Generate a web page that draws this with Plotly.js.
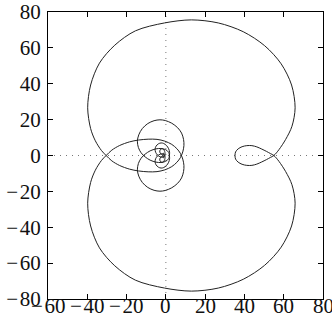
<!DOCTYPE html>
<html>
<head>
<meta charset="utf-8">
<script src="https://cdn.plot.ly/plotly-3.0.1.min.js"></script>
<style>
html,body{margin:0;padding:0;background:#fff;}
#chart{width:332px;height:328px;}
</style>
</head>
<body>
<div id="chart"></div>
<script>
// Half of the curve traced from the starting point on the real axis, going up first
var halfAx = [35.2,35.5,36.8,38.8,41.2,43.8,46.3,48.8,51.2,53.2,55,
  57.6,61,64.2,65.8,64,58.7,50.3,39.4,26.7,13,-0.7,-15.5,-26,-33.8,-38.3,-39.8,-38.3,-35.9,-32.8,-30.4,
  -27.5,-23.5,-18.5,-14,-9,-4.5,-0.5,3,5.6,7.4,
  8.6,9.2,9,8,6,3,-0.3,-3,-6,-9.2,-12,-13.8,-14.5,-14,-12.6,-10.5,-8,-5,-2.5,
  -0.2,1.4,1.9,1.4,0.3,-1.1,-2.4,-3.8,-5,-5.5,-5.2,-4.3,-3,-1.8,
  -0.7,-0.4,-0.6,-1.2,-1.9,-2.7,-3.1,-2.9,-2.2,-1.4,-0.9,-0.9,-1.2,-1.5,-1.4,-1.2];
var halfAy = [0,2,3.7,4.9,5.5,5.5,4.8,3.6,2.3,1.1,0,
  -3.3,-9,-16.3,-26.6,-39.3,-51.1,-61.2,-69,-73.9,-75.6,-73.9,-69.5,-61.5,-51.5,-39.3,-26.6,-15,-8.2,-2.8,0,
  3,5.6,7.6,8.6,9.1,9,8,6.2,3.8,1.2,
  -2,-5.5,-9,-12.5,-15.5,-18,-19.5,-19.9,-19.4,-17.8,-15,-11.5,-8,-4.5,-1.5,0.8,2.6,3.7,3.9,
  3.3,1.8,-1.8,-3.8,-5.6,-6.7,-7,-6.5,-5.2,-3.5,-1.8,-0.3,0.7,1,
  0.4,-1,-2.3,-3.5,-3.8,-3.4,-2.5,-1.4,-0.6,-0.3,-0.6,-1,-1.2,-1,-0.6,-0.4];

// Other half, traced from the same starting point, going down first
var halfBx = [35.2,35.5,36.8,38.8,41.2,43.8,46.3,48.8,51.2,53.2,55,
  57.6,61,64.2,65.8,64,58.7,50.3,39.4,26.7,13,-0.7,-15.5,-26,-33.8,-38.3,-39.8,-38.3,-35.9,-32.8,-30.4,
  -27.5,-23.5,-18.5,-14,-9,-4.5,-0.5,3,5.6,7.4,
  8.6,9.2,9,8,6,3,-0.3,-3,-6,-9.2,-12,-13.8,-14.5,-14,-12.6,-10.5,-8,-5,-2.5,
  -0.2,1.4,1.9,1.4,0.3,-1.1,-2.4,-3.8,-5,-5.5,-5.2,-4.3,-3,-1.8,
  -0.7,-0.4,-0.6,-1.2,-1.9,-2.7,-3.1,-2.9,-2.2,-1.4,-0.9,-0.9,-1.2,-1.5,-1.4,-1.2];
var halfBy = [0,-2,-3.7,-4.9,-5.5,-5.5,-4.8,-3.6,-2.3,-1.1,0,
  3.3,9,16.3,26.6,39.3,51.1,61.2,69,73.9,75.6,73.9,69.5,61.5,51.5,39.3,26.6,15,8.2,2.8,0,
  -3,-5.6,-7.6,-8.6,-9.1,-9,-8,-6.2,-3.8,-1.2,
  2,5.5,9,12.5,15.5,18,19.5,19.9,19.4,17.8,15,11.5,8,4.5,1.5,-0.8,-2.6,-3.7,-3.9,
  -3.3,-1.8,1.8,3.8,5.6,6.7,7,6.5,5.2,3.5,1.8,0.3,-0.7,-1,
  -0.4,1,2.3,3.5,3.8,3.4,2.5,1.4,0.6,0.3,0.6,1,1.2,1,0.6,0.4];

var xTicks = [-60,-40,-20,0,20,40,60,80];
var yTicks = [-80,-60,-40,-20,0,20,40,60,80];
var refLine = 0;

var xs = halfBx.slice().reverse().concat(halfAx.slice(1));
var ys = halfBy.slice().reverse().concat(halfAy.slice(1));

function lab(v){ return v < 0 ? '\u2212\u200A' + Math.abs(v) : String(v); }

var fontFam = '"Liberation Serif", "DejaVu Serif", serif';
var tickFont = {family: fontFam, size: 21, color: '#111'};
var trace = {
  x: xs, y: ys, type: 'scatter', mode: 'lines',
  line: {color: '#222', width: 1, shape: 'spline', smoothing: 0.9},
  hoverinfo: 'skip'
};

var axisCommon = {
  showgrid: false, zeroline: false, showline: true, linecolor: '#000', linewidth: 1,
  ticks: 'inside', ticklen: 5, tickwidth: 1, tickcolor: '#000', mirror: 'ticks',
  tickfont: tickFont, automargin: false
};

var xAnn = xTicks.map(function(v){
  return {x: v, xref: 'x', y: 0, yref: 'paper', yanchor: 'middle', xanchor: 'center',
          yshift: -7, text: lab(v), showarrow: false, font: tickFont};
});

var layout = {
  width: 332, height: 328,
  margin: {l: 48, r: 9, t: 12, b: 29, pad: 0},
  paper_bgcolor: '#fff', plot_bgcolor: '#fff',
  showlegend: false,
  xaxis: Object.assign({}, axisCommon, {range: [xTicks[0], xTicks[xTicks.length-1]], tickvals: xTicks, showticklabels: false}),
  yaxis: Object.assign({}, axisCommon, {range: [yTicks[0], yTicks[yTicks.length-1]], tickvals: yTicks, ticktext: yTicks.map(lab), ticklabelstandoff: 2}),
  annotations: xAnn,
  shapes: [
    {type: 'line', xref: 'x', yref: 'paper', x0: refLine, x1: refLine, y0: 0, y1: 1, line: {color: '#777', width: 1, dash: '1px,5px'}, layer: 'below'},
    {type: 'line', xref: 'paper', yref: 'y', x0: 0, x1: 1, y0: refLine, y1: refLine, line: {color: '#777', width: 1, dash: '1px,5px'}, layer: 'below'}
  ]
};

Plotly.newPlot('chart', [trace], layout, {staticPlot: true, displayModeBar: false});
</script>
</body>
</html>
